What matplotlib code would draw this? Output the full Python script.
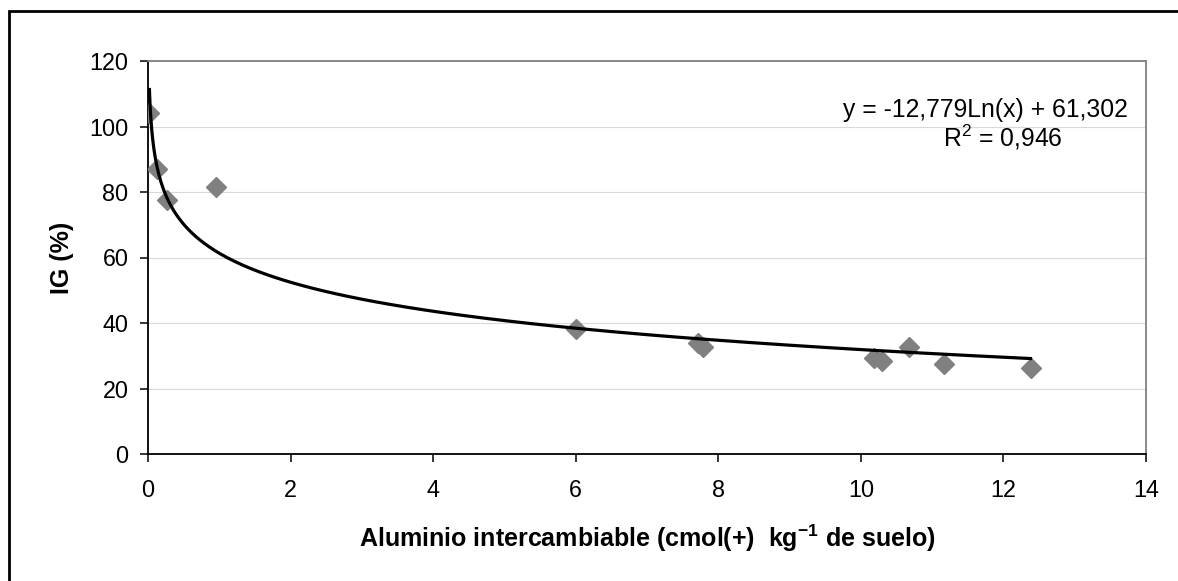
import numpy as np
import matplotlib
matplotlib.use("Agg")
import matplotlib.pyplot as plt
from matplotlib.patches import Rectangle

plt.rcParams['font.family'] = ['Liberation Sans', 'DejaVu Sans']
plt.rcParams['mathtext.fontset'] = 'custom'
plt.rcParams['mathtext.rm'] = 'Liberation Sans'
plt.rcParams['mathtext.bf'] = 'Liberation Sans:bold'

# Data
al_x = [0.02, 0.13, 0.27, 0.96, 6.0, 7.72, 7.79, 10.18, 10.29, 10.68, 11.17, 12.38]
ig_y = [104.0, 87.0, 77.5, 81.5, 38.3, 33.8, 32.7, 29.4, 28.5, 32.7, 27.5, 26.3]

# Excel log trendline coefficients (as shown on the chart)
coef_a = -12.779
coef_b = 61.302
r2 = 0.946

x_ticks = [0, 2, 4, 6, 8, 10, 12, 14]
y_ticks = [0, 20, 40, 60, 80, 100, 120]

fig = plt.figure(figsize=(11.78, 5.81), dpi=100)
# plot area: x 148..1146 px, y 61..454 px
ax = fig.add_axes([148 / 1178, 1 - 454 / 581, 998 / 1178, 393 / 581])

# grid
ax.set_axisbelow(True)
ax.grid(axis='y', color='#d9d9d9', linewidth=0.8)
ax.grid(axis='x', visible=False)

# points
ax.plot(al_x, ig_y, linestyle='none', marker='D', markersize=10,
        color='#808080', markeredgecolor='#808080', zorder=3)

# trendline
xt = np.geomspace(min(al_x), max(al_x), 300)
ax.plot(xt, coef_a * np.log(xt) + coef_b, color='black', linewidth=2.3, zorder=4)

ax.set_xlim(0, 14)
ax.set_ylim(0, 120)
ax.set_xticks(x_ticks)
ax.set_yticks(y_ticks)
ax.tick_params(axis='both', labelsize=16.8, direction='out', length=6,
               width=1.1, color='black')
ax.tick_params(axis='x', pad=12)
ax.tick_params(axis='y', pad=8)

for s in ['left', 'bottom']:
    ax.spines[s].set_color('black')
    ax.spines[s].set_linewidth(1.3)
for s in ['top', 'right']:
    ax.spines[s].set_color('#808080')
    ax.spines[s].set_linewidth(1.3)

ax.set_xlabel(r'Aluminio intercambiable (cmol(+)  kg$^{\mathbf{-1}}$ de suelo)',
              fontsize=18, fontweight='bold', labelpad=15)
ax.set_ylabel('IG (%)', fontsize=18, fontweight='bold', labelpad=11)

# equation
ax.text(0.982, 0.875, 'y = -12,779Ln(x) + 61,302', transform=ax.transAxes,
        ha='right', va='center', fontsize=17.8)
ax.text(0.857, 0.805, r'R$^2$ = 0,946', transform=ax.transAxes,
        ha='center', va='center', fontsize=17.8)

# outer chart frame
fig.add_artist(Rectangle((9 / 1178, -0.5), 2.0, 1.5 - 11 / 581,
                         transform=fig.transFigure, fill=False,
                         edgecolor='black', linewidth=2))

fig.savefig('out.png', dpi=100)
